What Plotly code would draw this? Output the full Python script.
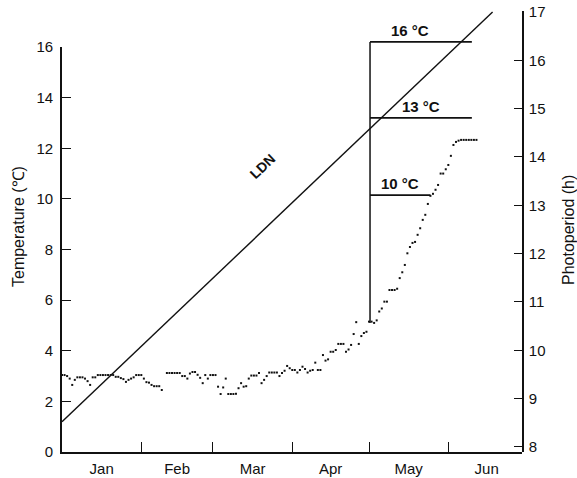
import math
import plotly.graph_objects as go

# ---------------- data ----------------
months = ["Jan", "Feb", "Mar", "Apr", "May", "Jun"]
month_starts = [0, 31, 59, 90, 120, 151, 181]          # day of year (0 = 1 Jan)

# daily water temperature (left axis, deg C), day 0 = 1 Jan
temp_c = [
    3.04, 3.04, 3.0, 2.9, 2.65, 2.85, 2.95, 2.95, 2.95, 2.9,
    2.8, 2.65, 2.95, 2.95, 3.04, 3.04, 3.04, 3.04, 3.04, 3.04,
    3.04, 2.97, 2.97, 2.92, 2.88, 2.77, 2.85, 2.9, 2.95, 3.04,
    3.04, 3.04, 2.9, 2.76, 2.74, 2.65, 2.6, 2.6, 2.6, 2.45,
    None, 3.12, 3.12, 3.12, 3.12, 3.12, 3.12, 3.0, 3.0, 2.9,
    3.1, 3.16, 3.16, 3.05, 2.93, 2.72, 3.04, 2.9, 3.04, 3.04,
    3.04, 2.58, 2.29, 2.55, 2.9, 2.29, 2.29, 2.29, 2.3, 2.52,
    2.72, 2.58, 2.6, 2.9, 3.02, 3.02, 3.02, 3.12, 2.72, 2.85,
    3.0, 3.14, 3.14, 3.14, 3.14, 3.0, 3.12, 3.21, 3.4, 3.31,
    3.24, 3.24, 3.14, 3.24, 3.37, 3.28, 3.14, 3.21, 3.24, 3.53,
    3.24, 3.24, 3.83, 3.61, 3.66, 3.96, 3.96, 4.03, 4.27, 4.27,
    4.27, 3.96, 4.05, 4.23, 4.66, 5.13, 4.27, 4.58, 4.7, 4.75,
    5.15, 5.15, 5.1, 5.2, 5.55, 5.67, 5.94, 5.94, 6.4, 6.4,
    6.4, 6.45, 6.87, 7.1, 7.39, 7.85, 8.1, 8.26, 8.3, 8.58,
    8.84, 9.17, 9.37, 9.8, 10.12, 10.2, 10.36, 10.55, 11.0, 11.0,
    11.17, 11.34, 11.7, 12.13, 12.25, 12.3, 12.33, 12.33, 12.33, 12.33,
    12.33, 12.33, 12.33,
]
temp_day = list(range(len(temp_c)))

# LDN photoperiod line (right axis, hours)
ldn_day = [0, 168.3]
ldn_hours = [8.52, 17.0]

# experimental temperature steps
set_labels = ["10 °C", "13 °C", "16 °C"]
set_level = [10.15, 13.2, 16.2]
set_start_day = 120.4
set_end_day = [144.0, 160.2, 160.2]
riser_bottom = 5.1

left_ticks = [0, 2, 4, 6, 8, 10, 12, 14, 16]
right_ticks = [8, 9, 10, 11, 12, 13, 14, 15, 16, 17]

# ---------------- figure ----------------
FONT = "Liberation Sans, Arial, sans-serif"
INK = "#111111"

W, H = 577, 478
ML, MR, MT, MB = 62, 55, 11, 26
plot_h = H - MT - MB
plot_w = W - ML - MR
PX_PER_C = (452 - 47) / 16.0            # left-axis scale in pixels per degree
T_TOP = plot_h / PX_PER_C               # temperature at top of plot area
X_MAX = 179.8
H_RANGE = [7.896, 17.02]

fig = go.Figure()

# temperature dots (left axis)
fig.add_trace(go.Scatter(
    x=temp_day, y=temp_c, mode="markers", xaxis="x", yaxis="y",
    marker=dict(symbol="square", size=2.0, color=INK, line=dict(width=0)),
    showlegend=False, hoverinfo="skip",
))

# step riser (vertical) and horizontal temperature levels
# (y3 = same temperature scale as the left axis, extended to the plot top)
fig.add_trace(go.Scatter(
    x=[set_start_day, set_start_day], y=[riser_bottom, max(set_level)],
    mode="lines", line=dict(color=INK, width=1.5), xaxis="x", yaxis="y3",
    showlegend=False, hoverinfo="skip",
))
for lvl, end in zip(set_level, set_end_day):
    fig.add_trace(go.Scatter(
        x=[set_start_day, end], y=[lvl, lvl], mode="lines",
        line=dict(color=INK, width=1.8), xaxis="x", yaxis="y3",
        showlegend=False, hoverinfo="skip",
    ))

# LDN photoperiod line on right axis
fig.add_trace(go.Scatter(
    x=ldn_day, y=ldn_hours, mode="lines", xaxis="x", yaxis="y2",
    line=dict(color=INK, width=1.4), showlegend=False, hoverinfo="skip",
))

mids = [(a + b) / 2 for a, b in zip(month_starts[:-1], month_starts[1:])]

fig.update_layout(
    width=W, height=H, autosize=False,
    margin=dict(l=ML, r=MR, t=MT, b=MB, pad=0, autoexpand=False),
    paper_bgcolor="white", plot_bgcolor="rgba(0,0,0,0)",
    font=dict(family=FONT, size=14, color=INK),
    showlegend=False,
    xaxis=dict(
        range=[0, X_MAX], anchor="y", automargin=False,
        tickmode="array", tickvals=mids, ticktext=months, ticks="",
        tickfont=dict(size=15), ticklabelstandoff=2,
        minor=dict(tickmode="array", tickvals=month_starts[1:-1],
                   ticks="inside", ticklen=10, tickwidth=1.3, tickcolor=INK,
                   showgrid=False),
        showline=True, linecolor=INK, linewidth=1.6,
        showgrid=False, zeroline=False,
    ),
    yaxis=dict(
        domain=[0, 16 * PX_PER_C / plot_h], range=[0, 16], anchor="x",
        automargin=False,
        tickmode="array", tickvals=left_ticks,
        ticks="inside", ticklen=9, tickwidth=1.3, tickcolor=INK,
        tickfont=dict(size=15), ticklabelstandoff=4,
        showline=True, linecolor=INK, linewidth=1.6,
        showgrid=False, zeroline=False,
    ),
    yaxis2=dict(
        domain=[0, 1], range=H_RANGE, anchor="x", side="right",
        automargin=False,
        tickmode="array", tickvals=right_ticks,
        ticks="inside", ticklen=8, tickwidth=1.3, tickcolor=INK,
        tickfont=dict(size=15), ticklabelstandoff=2,
        showline=True, linecolor=INK, linewidth=1.6,
        showgrid=False, zeroline=False,
    ),
    yaxis3=dict(
        domain=[0, 1], range=[0, T_TOP], anchor="x", visible=False,
        automargin=False, showgrid=False, zeroline=False,
    ),
)

annotations = []
# axis titles
annotations.append(dict(
    text="Temperature (℃)", xref="paper", yref="paper",
    x=(18 - ML) / plot_w, y=(452 - 227) / plot_h,
    textangle=-90, showarrow=False, font=dict(size=16, color=INK),
    xanchor="center", yanchor="middle",
))
annotations.append(dict(
    text="Photoperiod (h)", xref="paper", yref="paper",
    x=(568 - ML) / plot_w, y=(452 - 230) / plot_h,
    textangle=-90, showarrow=False, font=dict(size=16, color=INK),
    xanchor="center", yanchor="middle",
))
# step labels
shifts = [0, 0, -11]
for lab, lvl, end, xs in zip(set_labels, set_level, set_end_day, shifts):
    annotations.append(dict(
        text=lab, xref="x", yref="y3", x=(set_start_day + end) / 2, y=lvl,
        yanchor="bottom", xanchor="center", yshift=1, xshift=xs, showarrow=False,
        font=dict(size=15, color=INK, weight="bold"),
    ))
# LDN label, rotated with the line
px_per_day = plot_w / X_MAX
px_per_h = plot_h / (H_RANGE[1] - H_RANGE[0])
slope_px = (ldn_hours[1] - ldn_hours[0]) * px_per_h / ((ldn_day[1] - ldn_day[0]) * px_per_day)
angle = math.degrees(math.atan(slope_px))
annotations.append(dict(
    text="LDN", xref="x", yref="y3", x=78.5, y=11.3,
    textangle=-angle, showarrow=False,
    font=dict(size=14, color=INK, weight="bold"),
))
fig.update_layout(annotations=annotations)

fig.write_html("out.html")
